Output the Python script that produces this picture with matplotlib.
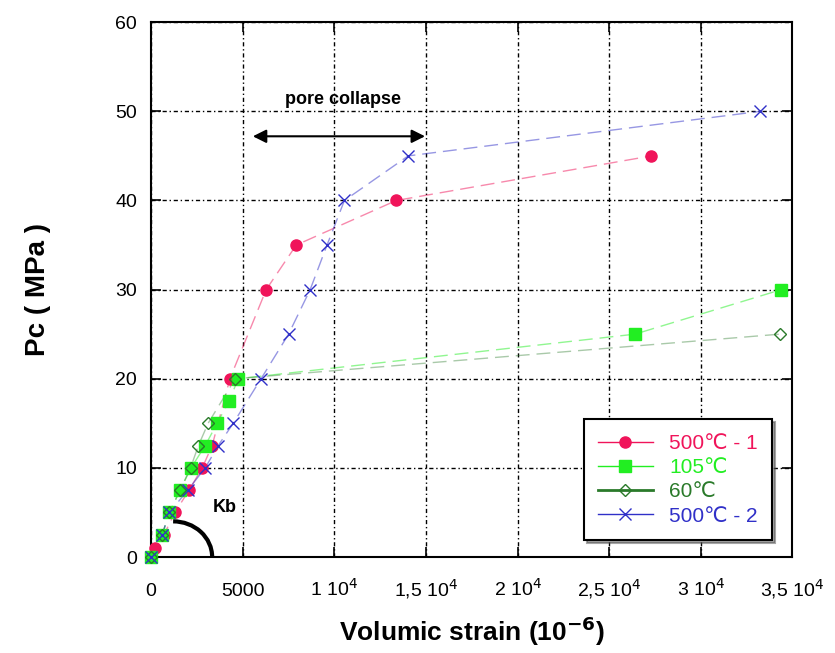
import numpy as np
import matplotlib
matplotlib.use('Agg')
import matplotlib.pyplot as plt
from matplotlib.patches import Arc
from matplotlib.lines import Line2D

plt.rcParams['font.family'] = ['Liberation Sans', 'DejaVu Sans']

# data (strain in 1e-6, Pc in MPa)
strain_500_1 = [0, 220, 700, 1300, 2070, 2790, 3330, 4300, 6280, 7920, 13380, 27300]
pc_500_1 = [0, 1, 2.5, 5, 7.5, 10, 12.5, 20, 30, 35, 40, 45]

strain_105 = [0, 600, 1000, 1580, 2180, 2950, 3600, 4260, 4750, 26400, 34400]
pc_105 = [0, 2.5, 5, 7.5, 10, 12.5, 15, 17.5, 20, 25, 30]

strain_60 = [0, 600, 1000, 1580, 2150, 2580, 3110, 4590, 34300]
pc_60 = [0, 2.5, 5, 7.5, 10, 12.5, 15, 20, 25]

strain_500_2 = [0, 600, 1000, 2000, 2950, 3660, 4480, 6000, 7500, 8680, 9600, 10550, 14030, 33250]
pc_500_2 = [0, 2.5, 5, 7.5, 10, 12.5, 15, 20, 25, 30, 35, 40, 45, 50]

xticks = [0, 5000, 10000, 15000, 20000, 25000, 30000, 35000]
xtick_labels = ['0', '5000', '1 10$^4$', '1,5 10$^4$', '2 10$^4$',
                '2,5 10$^4$', '3 10$^4$', '3,5 10$^4$']
yticks = [0, 10, 20, 30, 40, 50, 60]

c_red = '#f0145a'
c_green = '#22ee22'
c_dgreen = '#2a7a2a'
c_blue = '#3030c8'

fig = plt.figure(figsize=(8.35, 6.53), dpi=100)
ax = fig.add_axes([0.181, 0.147, 0.768, 0.819])

dash = (0, (10, 5))
ax.plot(strain_500_1, pc_500_1, color=c_red, ls=dash, lw=1, alpha=0.5, zorder=2)
ax.plot(strain_105, pc_105, color=c_green, ls=dash, lw=1, alpha=0.5, zorder=2)
ax.plot(strain_60, pc_60, color=c_dgreen, ls=dash, lw=1, alpha=0.4, zorder=2)
ax.plot(strain_500_2, pc_500_2, color=c_blue, ls=dash, lw=1, alpha=0.5, zorder=2)

# markers (not clipped, the ones at the origin sit on the axes)
ax.plot(strain_500_1, pc_500_1, 'o', color=c_red, ms=8, ls='none', zorder=3, clip_on=False)
ax.plot(strain_105, pc_105, 's', color=c_green, ms=9, ls='none', zorder=4, clip_on=False)
ax.plot(strain_60, pc_60, 'D', mfc='none', mec=c_dgreen, mew=1, ms=6, ls='none', zorder=5, clip_on=False)
ax.plot(strain_500_2, pc_500_2, 'x', color=c_blue, ms=9, mew=1, ls='none', zorder=6, clip_on=False)

ax.set_xlim(0, 35000)
ax.set_ylim(0, 60)
ax.set_xticks(xticks)
ax.set_xticklabels(xtick_labels)
ax.set_yticks(yticks)
ax.tick_params(direction='in', top=True, right=True, labelsize=14, length=7, width=1.2)
ax.tick_params(axis='x', pad=28)
ax.tick_params(axis='y', pad=10)
for t in ax.get_xticklabels():
    t.set_verticalalignment('baseline')
ax.grid(True, color='black', ls=(0, (3, 2, 1, 2)), lw=1)
for s in ax.spines.values():
    s.set_linewidth(1.5)

ax.set_xlabel('Volumic strain (10$^{\\mathbf{-6}}$)', fontsize=19, fontweight='bold', labelpad=10)
ax.set_ylabel('Pc ( MPa )', fontsize=20, fontweight='bold', labelpad=46)

# Kb arc
ax.add_patch(Arc((1200, 0), 2 * 2130, 2 * 4.0, theta1=0, theta2=90, color='black', lw=3, zorder=7))
ax.text(4040, 5.5, 'Kb', fontsize=13, fontweight='bold', ha='center', va='center')

# pore collapse arrow
ax.annotate('', xy=(5400, 47.2), xytext=(15100, 47.2),
            arrowprops=dict(arrowstyle='<|-|>', color='black', lw=1.5, mutation_scale=20))
ax.text(10480, 51.3, 'pore collapse', fontsize=13, fontweight='bold', ha='center', va='center')

handles = [
    Line2D([], [], color=c_red, marker='o', ms=8, lw=1),
    Line2D([], [], color=c_green, marker='s', ms=9, lw=1),
    Line2D([], [], color=c_dgreen, marker='D', mfc='none', ms=6, lw=2),
    Line2D([], [], color=c_blue, marker='x', ms=9, lw=1),
]
labels = ['500\u2103 - 1', '105\u2103', '60\u2103', '500\u2103 - 2']
leg = ax.legend(handles, labels, loc='lower right', bbox_to_anchor=(0.985, 0.012),
                fontsize=15, frameon=True, fancybox=False, shadow=True,
                handlelength=2.6, borderpad=0.7, labelspacing=0.25, edgecolor='black')
leg.get_frame().set_linewidth(1.5)
leg.set_zorder(10)
for t, c in zip(leg.get_texts(), [c_red, c_green, c_dgreen, c_blue]):
    t.set_color(c)

fig.savefig('out.png', dpi=100)
